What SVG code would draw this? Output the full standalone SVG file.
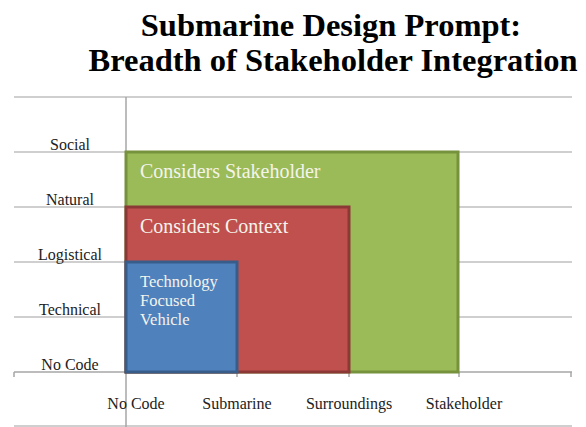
<svg xmlns="http://www.w3.org/2000/svg" width="586" height="427" viewBox="0 0 586 427">
<style>
.title{font-family:"Liberation Serif","Times New Roman",serif;font-weight:bold;font-size:32.5px;fill:#000;text-anchor:middle}
.grid{stroke:#BFBFBF;stroke-width:1.5;fill:none}
.axis{stroke:#A6A6A6;stroke-width:1.5;fill:none}
.lab{font-family:"Liberation Serif","Times New Roman",serif;font-size:16px;fill:#222;text-anchor:middle}
.box{stroke-width:3}
.bt{font-family:"Liberation Serif","Times New Roman",serif;fill:#F4F4EC}
</style>
<text class="title" x="331" y="36">Submarine Design Prompt:</text>
<text class="title" x="333" y="71">Breadth of Stakeholder Integration</text>
<g id="grid">
<line class="grid" x1="14" y1="97" x2="572" y2="97"/>
<line class="grid" x1="14" y1="152" x2="572" y2="152"/>
<line class="grid" x1="14" y1="207" x2="572" y2="207"/>
<line class="grid" x1="14" y1="262" x2="572" y2="262"/>
<line class="grid" x1="14" y1="317" x2="572" y2="317"/>
<line class="grid" x1="14" y1="426" x2="572" y2="426"/>
<line class="axis" x1="126" y1="97" x2="126" y2="427"/>
<line class="axis" x1="14" y1="372" x2="572" y2="372"/>
<path class="axis" d="M14 372v5M237 372v5M349 372v5M459 372v5M571 372v5"/>
</g>
<g id="y-labels">
<text class="lab" x="70" y="150">Social</text>
<text class="lab" x="70" y="205">Natural</text>
<text class="lab" x="70" y="260">Logistical</text>
<text class="lab" x="70" y="315">Technical</text>
<text class="lab" x="70" y="370">No Code</text>
</g>
<g id="x-labels">
<text class="lab" x="136" y="409">No Code</text>
<text class="lab" x="237" y="409">Submarine</text>
<text class="lab" x="349" y="409">Surroundings</text>
<text class="lab" x="464" y="409">Stakeholder</text>
</g>
<g id="stakeholder">
<rect class="box" x="126" y="152" width="332" height="220" fill="#9BBB59" stroke="#76923C"/>
<text class="bt" x="140" y="178" font-size="20">Considers Stakeholder</text>
</g>
<g id="context">
<rect class="box" x="126" y="207" width="223" height="165" fill="#C0504D" stroke="#8C3836"/>
<text class="bt" x="140" y="233" font-size="20">Considers Context</text>
</g>
<g id="technology">
<rect class="box" x="126" y="262" width="111" height="110" fill="#4F81BD" stroke="#385D8A"/>
<text class="bt" font-size="16.5"><tspan x="140" y="287">Technology</tspan><tspan x="140" y="306">Focused</tspan><tspan x="140" y="325">Vehicle</tspan></text>
</g>
</svg>
